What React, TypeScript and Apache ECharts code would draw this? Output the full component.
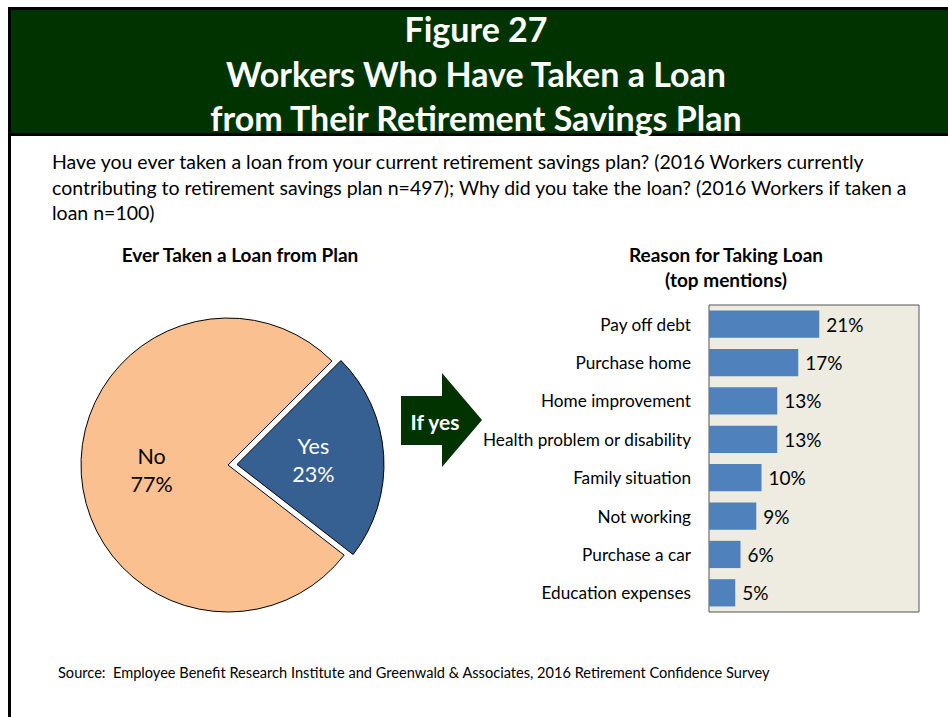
import React, { useEffect, useRef } from "react";
import * as echarts from "echarts";

const titleLines = ["Figure 27", "Workers Who Have Taken a Loan", "from Their Retirement Savings Plan"];
const subtitleLines = [
  "Have you ever taken a loan from your current retirement savings plan? (2016 Workers currently",
  "contributing to retirement savings plan n=497); Why did you take the loan? (2016 Workers if taken a",
  "loan n=100)",
];
const pieTitle = "Ever Taken a Loan from Plan";
const barTitle = ["Reason for Taking Loan", "(top mentions)"];
const pieNames = ["Yes", "No"];
const pieValues = [23, 77];
const reasons = [
  "Pay off debt",
  "Purchase home",
  "Home improvement",
  "Health problem or disability",
  "Family situation",
  "Not working",
  "Purchase a car",
  "Education expenses",
];
const reasonValues = [21, 17, 13, 13, 10, 9, 6, 5];
const arrowText = "If yes";
const sourceText =
  "Source:  Employee Benefit Research Institute and Greenwald & Associates, 2016 Retirement Confidence Survey";

const FONT = "Lato, 'Noto Sans', sans-serif";
const GREEN = "#003300";

export default function App() {
  const ref = useRef<HTMLDivElement>(null);
  useEffect(() => {
    if (!ref.current) return;
    const chart = echarts.init(ref.current, undefined, { renderer: "svg" });
    const titleY = [28, 73, 117];
    const subY = [161, 187, 212];
    const option: any = {
      animation: false,
      backgroundColor: "#ffffff",
      textStyle: { fontFamily: FONT },
      graphic: [
        {
          type: "rect",
          shape: { x: 9.5, y: 8.5, width: 960, height: 126 },
          style: { fill: GREEN, stroke: "#000", lineWidth: 3 },
        },
        {
          type: "line",
          shape: { x1: 9.5, y1: 136, x2: 9.5, y2: 717 },
          style: { stroke: "#000", lineWidth: 3 },
        },
        ...titleLines.map((t, i) => ({
          type: "text",
          x: 476,
          y: titleY[i],
          style: {
            text: t,
            fill: "#fff",
            font: `bold 34px ${FONT}`,
            textAlign: "center",
            textVerticalAlign: "middle",
          },
        })),
        ...subtitleLines.map((t, i) => ({
          type: "text",
          x: 52,
          y: subY[i],
          style: {
            text: t,
            fill: "#000",
            font: `19.5px ${FONT}`,
            textAlign: "left",
            textVerticalAlign: "middle",
          },
        })),
        {
          type: "text",
          x: 240,
          y: 254,
          style: {
            text: pieTitle,
            fill: "#000",
            font: `bold 19px ${FONT}`,
            textAlign: "center",
            textVerticalAlign: "middle",
          },
        },
        ...barTitle.map((t, i) => ({
          type: "text",
          x: 726,
          y: 254 + i * 25,
          style: {
            text: t,
            fill: "#000",
            font: `bold 19px ${FONT}`,
            textAlign: "center",
            textVerticalAlign: "middle",
          },
        })),
        {
          type: "polygon",
          shape: {
            points: [
              [401, 396],
              [442, 396],
              [442, 373],
              [482, 420],
              [442, 467],
              [442, 445],
              [401, 445],
            ],
          },
          style: { fill: GREEN },
        },
        {
          type: "text",
          x: 435,
          y: 421,
          style: {
            text: arrowText,
            fill: "#fff",
            font: `bold 21px ${FONT}`,
            textAlign: "center",
            textVerticalAlign: "middle",
          },
        },
        {
          type: "text",
          x: 58,
          y: 672,
          style: {
            text: sourceText,
            fill: "#000",
            font: `14.6px ${FONT}`,
            textAlign: "left",
            textVerticalAlign: "middle",
          },
        },
      ],
      grid: {
        left: 709,
        top: 305,
        width: 210,
        height: 307,
        show: true,
        backgroundColor: "#EEECE1",
        borderColor: "#555",
        borderWidth: 1,
        containLabel: false,
      },
      xAxis: {
        type: "value",
        min: 0,
        max: 40,
        show: false,
      },
      yAxis: {
        type: "category",
        data: reasons,
        inverse: true,
        axisLine: { show: false },
        axisTick: { show: false },
        axisLabel: { color: "#000", fontSize: 17.2, margin: 18, fontFamily: FONT },
      },
      series: [
        {
          type: "bar",
          data: reasonValues,
          barCategoryGap: "29%",
          itemStyle: { color: "#4F81BD" },
          label: {
            show: true,
            position: "right",
            distance: 7,
            color: "#000",
            fontSize: 19,
            fontFamily: FONT,
            formatter: (p: any) => `${p.value}%`,
          },
        },
        {
          type: "pie",
          center: [228, 465],
          radius: 147,
          startAngle: 45,
          clockwise: true,
          selectedMode: "single",
          selectedOffset: 9,
          emphasis: { disabled: true },
          itemStyle: { borderColor: "#000", borderWidth: 1 },
          label: {
            show: true,
            position: "inner",
            fontSize: 21.5,
            fontFamily: FONT,
            lineHeight: 28,
          },
          labelLine: { show: false },
          data: pieNames.map((n, i) => ({
            name: n,
            value: pieValues[i],
            selected: i === 0,
            itemStyle: { color: i === 0 ? "#376092" : "#FAC090" },
            select: { itemStyle: { color: i === 0 ? "#376092" : "#FAC090", borderColor: "#000", borderWidth: 1 } },
            label: {
              color: i === 0 ? "#fff" : "#000",
              formatter: `${n}\n${pieValues[i]}%`,
            },
          })),
        },
      ],
    };
    chart.setOption(option);
    return () => chart.dispose();
  }, []);
  return (
    <div
      ref={ref}
      style={{ position: "fixed", left: 0, top: 0, width: 948, height: 717 }}
    />
  );
}
